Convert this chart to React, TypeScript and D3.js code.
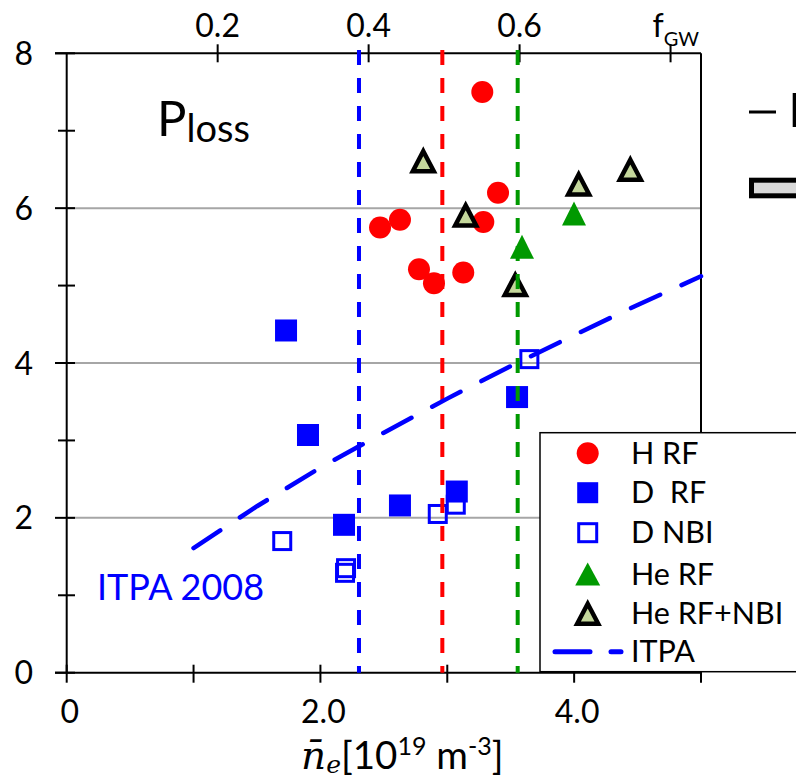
import React from 'react';
import * as d3 from 'd3';

// ---- data ----
const hRF: [number, number][] = [
  [3.276, 7.5], [2.47, 5.75], [2.627, 5.85], [3.4, 6.2],
  [3.284, 5.82], [2.777, 5.21], [2.895, 5.03], [3.126, 5.17],
];
const dRF: [number, number][] = [
  [1.729, 4.42], [1.902, 3.07], [2.186, 1.91], [2.627, 2.16], [3.075, 2.34], [3.55, 3.56],
];
const dNBI: [number, number][] = [
  [1.699, 1.7], [2.202, 1.35], [2.194, 1.29], [2.925, 2.05], [3.067, 2.17], [3.647, 4.05],
];
const heRF: [number, number][] = [
  [3.999, 5.93], [3.589, 5.5],
];
const heRFNBI: [number, number][] = [
  [2.811, 6.6], [3.145, 5.9], [3.536, 5.0], [4.036, 6.3], [4.443, 6.49],
];
const itpaN = [1.0, 1.5, 2.0, 2.5, 3.0, 3.5, 4.0, 4.5, 5.0];
const itpaP = [1.61, 2.15, 2.65, 3.1, 3.54, 3.96, 4.36, 4.75, 5.12];
const densityLimits = [2.304, 2.961, 3.555];
const densityColors = ['#0000ff', '#ff0000', '#009900'];

const yTicksMajor = [0, 2, 4, 6, 8];
const yTicksMinor = [1, 3, 5, 7];
const yGrid = [2, 4, 6];
const xTicks = [0, 1, 2, 3, 4, 5];
const xLabels: [number, string][] = [[0, '0'], [2, '2.0'], [4, '4.0']];
const fTicks = [0.2, 0.4, 0.6, 0.8];
const fLabels = ['0.2', '0.4', '0.6'];
const nGW = 5.95;

const legendLabels = ['H RF', 'D  RF', 'D NBI', 'He RF', 'He RF+NBI', 'ITPA'];

const BLUE = '#0000ff';
const RED = '#ff0000';
const GREEN = '#009900';
const TRI_FILL = '#c4d79b';
const FONT = 'Lato, "Open Sans", sans-serif';

export default function App() {
  const x = d3.scaleLinear().domain([0, 5]).range([66.7, 701]);
  const y = d3.scaleLinear().domain([0, 8]).range([672.7, 53.3]);
  const xf = d3.scaleLinear().domain([0, 5 / nGW]).range([66.7, 701]);

  const itpaLine = d3.line<number>()
    .x((_, i) => x(itpaN[i]))
    .y((d) => y(d))(itpaP) as string;

  const triOpen = 'M0,-10.5 L10.5,9.5 L-10.5,9.5 Z';
  const triFill = 'M0,-12 L12,12 L-12,12 Z';

  const legendRows = [453.3, 492.7, 532.7, 574, 613.3, 651.7];
  const lgx = 587.7;

  return (
    <svg width={796} height={781} style={{ position: 'absolute', left: 0, top: 0, background: '#fff' }}
      fontFamily={FONT}>
      <rect x={0} y={0} width={796} height={781} fill="#fff" />
      {/* grid */}
      {yGrid.map((v) => (
        <line key={'g' + v} x1={x(0)} x2={x(5)} y1={y(v)} y2={y(v)} stroke="#a6a6a6" strokeWidth={2} />
      ))}
      {/* axes frame */}
      <line x1={55} x2={x(5)} y1={y(8)} y2={y(8)} stroke="#000" strokeWidth={2} />
      <line x1={55} x2={x(5)} y1={y(0)} y2={y(0)} stroke="#000" strokeWidth={2} />
      <line x1={x(0)} x2={x(0)} y1={y(8)} y2={y(0)} stroke="#000" strokeWidth={2} />
      <line x1={x(5)} x2={x(5)} y1={y(8)} y2={y(0)} stroke="#000" strokeWidth={2} />
      {yTicksMajor.map((v) => (
        <line key={'ym' + v} x1={55} x2={75} y1={y(v)} y2={y(v)} stroke="#000" strokeWidth={2} />
      ))}
      {yTicksMinor.map((v) => (
        <line key={'yn' + v} x1={58} x2={75} y1={y(v)} y2={y(v)} stroke="#000" strokeWidth={2} />
      ))}
      {xTicks.map((v) => (
        <line key={'xt' + v} x1={x(v)} x2={x(v)} y1={y(0) - 8} y2={y(0) + 10} stroke="#000" strokeWidth={2} />
      ))}
      {fTicks.map((v) => (
        <line key={'ft' + v} x1={xf(v)} x2={xf(v)} y1={y(8) - 9} y2={y(8) + 9} stroke="#000" strokeWidth={2} />
      ))}
      {/* tick labels */}
      {yTicksMajor.map((v) => (
        <text key={'yl' + v} x={33} y={y(v) + 11.5} textAnchor="end" fontSize={32}>{v}</text>
      ))}
      {xLabels.map(([v, s]) => (
        <text key={'xl' + v} x={x(v) + 3} y={723} textAnchor="middle" fontSize={32}>{s}</text>
      ))}
      {fLabels.map((s, i) => (
        <text key={'fl' + s} x={xf(fTicks[i])} y={37} textAnchor="middle" fontSize={32}>{s}</text>
      ))}
      <text x={xf(0.8) - 18} y={37} fontSize={32}>
        f<tspan fontSize={20} dy={9}>GW</tspan>
      </text>
      {/* axis title */}
      <text x={301} y={769} fontSize={38.5}>
        <tspan fontFamily='"DejaVu Serif", serif' fontStyle="italic" fontSize={39}>{'n\u0304'}</tspan>
        <tspan fontFamily='"DejaVu Serif", serif' fontStyle="italic" fontSize={25} dy={4}>e</tspan>
        <tspan dy={-4}>[10</tspan>
        <tspan fontSize={25} dy={-14}>19</tspan>
        <tspan dy={14}> m</tspan>
        <tspan fontSize={25} dy={-14}>-3</tspan>
        <tspan dy={14}>]</tspan>
      </text>
      {/* P_loss */}
      <text x={157} y={136} fontSize={49}>
        P<tspan fontSize={38} dy={6}>loss</tspan>
      </text>
      <text x={97} y={600} fontSize={36} fill={BLUE}>ITPA 2008</text>

      {/* markers */}
      {hRF.map(([n, p], i) => (
        <circle key={'h' + i} cx={x(n)} cy={y(p)} r={11} fill={RED} />
      ))}
      {dRF.map(([n, p], i) => (
        <rect key={'d' + i} x={x(n) - 11} y={y(p) - 11} width={22} height={22} fill={BLUE} />
      ))}
      {dNBI.map(([n, p], i) => (
        <rect key={'dn' + i} x={x(n) - 8.5} y={y(p) - 8.5} width={17} height={17} fill="none" stroke={BLUE} strokeWidth={3} />
      ))}
      {heRF.map(([n, p], i) => (
        <path key={'he' + i} d={triFill} transform={`translate(${x(n)},${y(p)})`} fill={GREEN} />
      ))}
      {heRFNBI.map(([n, p], i) => (
        <path key={'hn' + i} d={triOpen} transform={`translate(${x(n)},${y(p)})`} fill={TRI_FILL} stroke="#000" strokeWidth={4.5} />
      ))}

      {/* density limit lines */}
      {densityLimits.map((n, i) => (
        <line key={'dl' + i} x1={x(n)} x2={x(n)} y1={50} y2={y(0)} stroke={densityColors[i]} strokeWidth={4} strokeDasharray="15 13" />
      ))}
      {/* ITPA scaling */}
      <path d={itpaLine} fill="none" stroke={BLUE} strokeWidth={4.5} strokeDasharray="32 23.5" strokeLinecap="round" />

      {/* legend */}
      <rect x={540} y={432.7} width={270} height={239} fill="#fff" stroke="#000" strokeWidth={1.5} />
      <circle cx={lgx} cy={legendRows[0]} r={11} fill={RED} />
      <rect x={lgx - 10.5} y={legendRows[1] - 10.5} width={21} height={21} fill={BLUE} />
      <rect x={lgx - 9} y={legendRows[2] - 9} width={18} height={18} fill="none" stroke={BLUE} strokeWidth={3} />
      <path d="M0,-11.5 L12.5,11.5 L-12.5,11.5 Z" transform={`translate(${lgx},${legendRows[3]})`} fill={GREEN} />
      <path d={triOpen} transform={`translate(${lgx},${legendRows[4] + 1})`} fill={TRI_FILL} stroke="#000" strokeWidth={4.5} />
      <line x1={555} x2={590} y1={legendRows[5]} y2={legendRows[5]} stroke={BLUE} strokeWidth={5} strokeLinecap="round" />
      <line x1={611} x2={621} y1={legendRows[5]} y2={legendRows[5]} stroke={BLUE} strokeWidth={5} strokeLinecap="round" />
      {legendLabels.map((s, i) => (
        <text key={'lg' + i} x={631} y={legendRows[i] + 10.5} fontSize={30.5} style={{ whiteSpace: 'pre' }}>{s}</text>
      ))}

      {/* partial second legend at right edge */}
      <line x1={749} x2={776} y1={112} y2={112} stroke="#000" strokeWidth={3} />
      <rect x={792.7} y={93} width={6} height={34} fill="#000" />
      <rect x={751.5} y={180.2} width={50} height={15.6} fill="#d9d9d9" stroke="#000" strokeWidth={5} />
    </svg>
  );
}
